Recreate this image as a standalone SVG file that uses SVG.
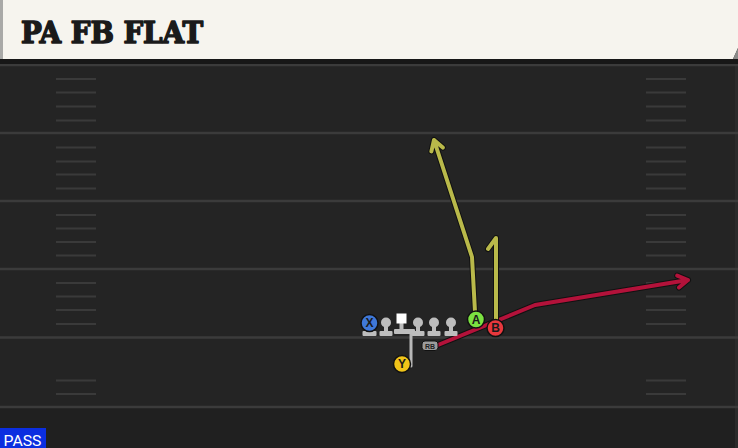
<svg xmlns="http://www.w3.org/2000/svg" width="738" height="448" viewBox="0 0 738 448">
<style>
.yard{stroke:#3b3b3b;stroke-width:2.5;fill:none}
.hash{stroke:#3a3a3a;stroke-width:2;fill:none}
.outl{fill:none;stroke:#111;stroke-width:6;stroke-linecap:round;stroke-linejoin:round}
.ylw{fill:none;stroke:#b9b94a;stroke-width:4;stroke-linecap:round;stroke-linejoin:round}
.red{fill:none;stroke:#b3123a;stroke-width:4;stroke-linecap:round;stroke-linejoin:round}
.gry{fill:none;stroke:#b8b8b8;stroke-width:3;stroke-linejoin:round}
.ol{fill:#bdbdbd}
.lbl{font-family:"Liberation Sans",Arial,sans-serif;font-weight:bold;font-size:12px;fill:#1a1a1a;text-anchor:middle}
.ring{stroke:#111;stroke-width:1.5}
</style>
<defs>
<g id="lineman">
<rect x="-6.5" y="-5" width="13" height="5" rx="1" class="ol"/>
<rect x="-2" y="-13" width="4" height="9" class="ol"/>
<circle cx="0" cy="-13.5" r="5" class="ol"/>
</g>
</defs>
<rect width="738" height="448" fill="#242424"/>
<rect x="0" y="407" width="738" height="41" fill="#202020"/>
<rect x="735" y="60" width="3" height="388" fill="#2b2b2b"/>
<g id="field">
<line class="yard" x1="0" y1="65" x2="738" y2="65"/>
<line class="yard" x1="0" y1="133" x2="738" y2="133"/>
<line class="yard" x1="0" y1="201" x2="738" y2="201"/>
<line class="yard" x1="0" y1="269" x2="738" y2="269"/>
<line class="yard" x1="0" y1="337.5" x2="738" y2="337.5"/>
<line class="yard" x1="0" y1="407" x2="738" y2="407"/>
<path class="hash" d="M56 79H96M56 92.5H96M56 106.5H96M56 120.5H96M56 147.5H96M56 161.5H96M56 174.5H96M56 188.5H96M56 215H96M56 228.5H96M56 242H96M56 255.5H96M56 283H96M56 296.5H96M56 310H96M56 324H96M56 380.5H96M56 394H96"/>
<path class="hash" d="M646 79H686M646 92.5H686M646 106.5H686M646 120.5H686M646 147.5H686M646 161.5H686M646 174.5H686M646 188.5H686M646 215H686M646 228.5H686M646 242H686M646 255.5H686M646 283H686M646 296.5H686M646 310H686M646 324H686M646 380.5H686M646 394H686"/>
</g>
<g id="header">
<rect x="0" y="59" width="738" height="5" fill="#171717"/>
<path d="M0 0H738V48L733 59H0Z" fill="#f6f4ee"/>
<path d="M738 48L733 59H738Z" fill="#8a8a88"/>
<rect x="0" y="0" width="3" height="59" fill="#a9a9a7"/>
<text x="21" y="43" font-family="'DejaVu Serif Condensed','DejaVu Serif','Liberation Serif',serif" font-weight="bold" font-size="29" fill="#1a1a1a" stroke="#1a1a1a" stroke-width="1.4" stroke-linejoin="round" textLength="182" lengthAdjust="spacingAndGlyphs">PA FB FLAT</text>
</g>
<g id="connectors">
<path class="outl" d="M438 345L535 305L688 280M679 287.5L688 280L677.2 275.6"/>
<path class="red" d="M438 345L535 305L688 280M679 287.5L688 280L677.2 275.6"/>
<path class="outl" d="M475 312L472 257L434 140M442.8 147.6L434 140L431.4 151.4"/>
<path class="ylw" d="M475 312L472 257L434 140M442.8 147.6L434 140L431.4 151.4"/>
<path class="outl" d="M496 320V238L488 249"/>
<path class="ylw" d="M496 320V238L488 249"/>
<path class="gry" d="M404 366H411V331"/>
</g>
<g id="line">
<use href="#lineman" x="386" y="336"/>
<use href="#lineman" x="418" y="336"/>
<use href="#lineman" x="434" y="336"/>
<use href="#lineman" x="451" y="336"/>
</g>
<g id="center">
<rect x="394" y="329" width="21" height="5" rx="1" class="ol"/>
<rect x="399.5" y="322" width="4" height="8" class="ol"/>
<rect x="396.5" y="313.5" width="10" height="10" fill="#ffffff"/>
</g>
<g id="rb">
<rect x="422" y="341" width="16" height="9.5" rx="3" fill="#9c9c9c" stroke="#111" stroke-width="1"/>
<text x="430" y="348.5" font-family="'Liberation Sans',Arial,sans-serif" font-weight="bold" font-size="7" fill="#222" text-anchor="middle">RB</text>
</g>
<g id="X">
<rect x="362.5" y="331" width="14" height="5" rx="1" class="ol"/>
<rect x="367.5" y="326" width="4" height="6" class="ol"/>
<circle cx="369.5" cy="323" r="8.5" fill="#3f78d8" class="ring"/>
<text x="369.5" y="327.3" class="lbl">X</text>
</g>
<g id="Y">
<circle cx="402" cy="364" r="8.5" fill="#f0c419" class="ring"/>
<text x="402" y="368.3" class="lbl">Y</text>
</g>
<g id="A">
<circle cx="476" cy="319.5" r="8.5" fill="#7be241" class="ring"/>
<text x="476" y="323.8" class="lbl">A</text>
</g>
<g id="B">
<circle cx="495.5" cy="328" r="8.5" fill="#e8383d" class="ring"/>
<text x="495.5" y="332.3" class="lbl">B</text>
</g>
<g id="pass">
<rect x="0" y="428" width="46" height="20" fill="#0b2ee0"/>
<text x="3.5" y="445.5" font-family="Roboto,'Liberation Sans',sans-serif" font-size="15.5" fill="#ffffff" textLength="38" lengthAdjust="spacingAndGlyphs">PASS</text>
</g>
</svg>
